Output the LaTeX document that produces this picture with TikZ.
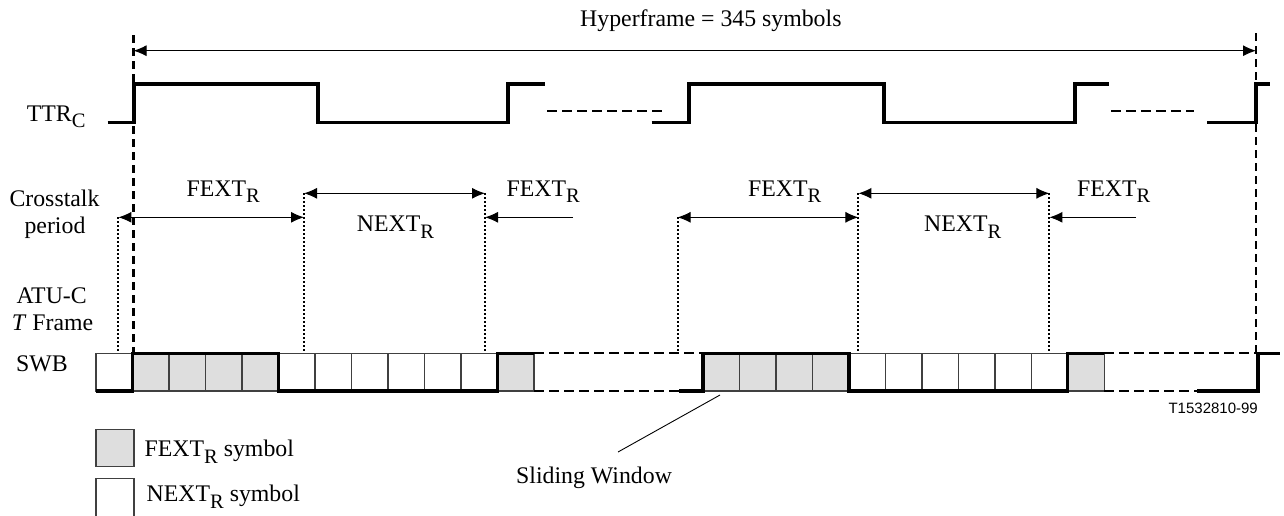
\documentclass[tikz,border=0pt]{standalone}
\usepackage{fontspec}
\setmainfont{Liberation Serif}
\newfontfamily\labelsans{Liberation Sans}
\usetikzlibrary{arrows.meta}
\definecolor{symgray}{HTML}{DEDEDE}
\newcommand\lowsub[1]{\raisebox{-6.5pt}{\fontsize{20.5}{21}\selectfont #1}}
\begin{document}
\begin{tikzpicture}[x=1pt,y=-1pt,
  txt/.style={font=\fontsize{23.8}{27}\selectfont, inner sep=0pt, anchor=base west},
  ctxt/.style={txt, anchor=base},
  sig/.style={line width=3.5pt, line join=miter, line cap=butt},
  sigdash/.style={line width=2pt, dash pattern=on 10pt off 5pt},
  framedash/.style={line width=2.5pt, dash pattern=on 8pt off 5pt},
  dotline/.style={line width=2pt, dash pattern=on 2pt off 2pt},
  tipL/.tip={Latex[length=13pt,width=11pt]},
  dim/.style={line width=1pt, tipL-tipL},
  dimone/.style={line width=1pt, -tipL},
  symbox/.style={draw=black!75, line width=1.3pt},
]
\useasboundingbox (0,0) rectangle (1284,515);

% ---------- hyperframe ----------
\coordinate (hfL) at (133.5,50.7);
\coordinate (hfR) at (1256,50.7);
\draw[framedash] (133.5,35) -- (133.5,353);
\draw[framedash] (1256,33) -- (1256,353);
\draw[dim] (hfL) -- (hfR);
\node[txt] (hf) at (580,26.7) {Hyperframe = 345 symbols};

% ---------- TTR_C ----------
\node[txt] (ttr) at (26.7,121) {TTR\lowsub{C}};
\draw[sig] (107.5,122.3) -- (134,122.3) -- (134,84) -- (318,84) -- (318,122.3) -- (508,122.3) -- (508,84) -- (545,84);
\draw[sigdash] (547,110.5) -- (664,110.5);
\draw[sig] (651.5,122.3) -- (689,122.3) -- (689,84) -- (884,84) -- (884,122.3) -- (1075,122.3) -- (1075,84) -- (1109,84);
\draw[sigdash] (1111,110.5) -- (1194,110.5);
\draw[sig] (1207,122.3) -- (1256,122.3) -- (1256,84) -- (1270,84);

% ---------- crosstalk period ----------
\node[ctxt] (ct1) at (54.5,206.5) {Crosstalk};
\node[ctxt] (ct2) at (55,233) {period};

\coordinate (a1) at (118.4,217.3);
\coordinate (a2) at (304,217.3);
\coordinate (b1) at (304,193.3);
\coordinate (b2) at (485,193.3);
\coordinate (c1) at (573,217.3);
\coordinate (c2) at (485,217.3);
\coordinate (d1) at (677.6,217.3);
\coordinate (d2) at (858.4,217.3);
\coordinate (e1) at (858.4,193.3);
\coordinate (e2) at (1049.4,193.3);
\coordinate (f1) at (1136,217.3);
\coordinate (f2) at (1049.4,217.3);

\foreach \p in {a1,b1,b2,d1,e1,e2} \draw[dotline] (\p) -- (\p |- 0,353);

\draw[dim] (a1) -- (a2);
\draw[dim] (b1) -- (b2);
\draw[dimone] (c1) -- (c2);
\draw[dim] (d1) -- (d2);
\draw[dim] (e1) -- (e2);
\draw[dimone] (f1) -- (f2);

\node[txt] (fx1) at (186.5,196.3) {FEXT\lowsub{R}};
\node[txt] (nx1) at (356.7,231.7) {NEXT\lowsub{R}};
\node[txt] (fx2) at (506.5,196.3) {FEXT\lowsub{R}};
\node[txt] (fx3) at (748,196.3) {FEXT\lowsub{R}};
\node[txt] (nx2) at (924,231.7) {NEXT\lowsub{R}};
\node[txt] (fx4) at (1077,196.3) {FEXT\lowsub{R}};

% ---------- ATU-C T frame / SWB ----------
\node[ctxt] (atu) at (51.7,303.3) {ATU-C};
\node[ctxt] (tfr) at (52.5,330) {\textit{T} Frame};
\node[txt] (swb) at (16,371.7) {SWB};

\foreach \i/\c in {0/white,1/symgray,2/symgray,3/symgray,4/symgray,5/white,6/white,7/white,8/white,9/white,10/white,11/symgray}
  \draw[symbox, fill=\c] ({96+36.5*\i},353.3) rectangle ++(36.5,37.7);
\foreach \i/\c in {0/symgray,1/symgray,2/symgray,3/symgray,4/white,5/white,6/white,7/white,8/white,9/white,10/symgray}
  \draw[symbox, fill=\c] ({703+36.5*\i},353.3) rectangle ++(36.5,37.7);

\draw[sig] (96,391) -- (132.5,391) -- (132.5,353.3) -- (278.5,353.3) -- (278.5,391) -- (497.5,391) -- (497.5,353.3) -- (534,353.3);
\draw[sigdash] (534,353.3) -- (703,353.3);
\draw[sigdash] (534,391) -- (679,391);
\draw[sig] (679,391) -- (703,391) -- (703,353.3) -- (849,353.3) -- (849,391) -- (1067.5,391) -- (1067.5,353.3) -- (1104,353.3);
\draw[sigdash] (1104,353.3) -- (1256,353.3);
\draw[sigdash] (1104,391) -- (1197,391);
\draw[sig] (1197,391) -- (1258,391) -- (1258,353.3) -- (1280,353.3);

\node[anchor=base east, inner sep=0pt, font=\labelsans\fontsize{15}{17}\selectfont] (code) at (1258,413) {T1532810-99};

% ---------- sliding window ----------
\node[txt] (sw) at (516,483) {Sliding Window};
\coordinate (swtip) at (720,395);
\draw[line width=0.9pt] (618,452) -- (swtip);

% ---------- legend ----------
\draw[symbox, fill=symgray] (96,429.5) rectangle (134,466.7);
\node[txt] (lgf) at (144.5,456.7) {FEXT\lowsub{R} symbol};
\draw[symbox] (96,517) -- (96,478.3) -- (134,478.3) -- (134,517);
\node[txt] (lgn) at (146.5,501.7) {NEXT\lowsub{R} symbol};
\end{tikzpicture}
\end{document}
